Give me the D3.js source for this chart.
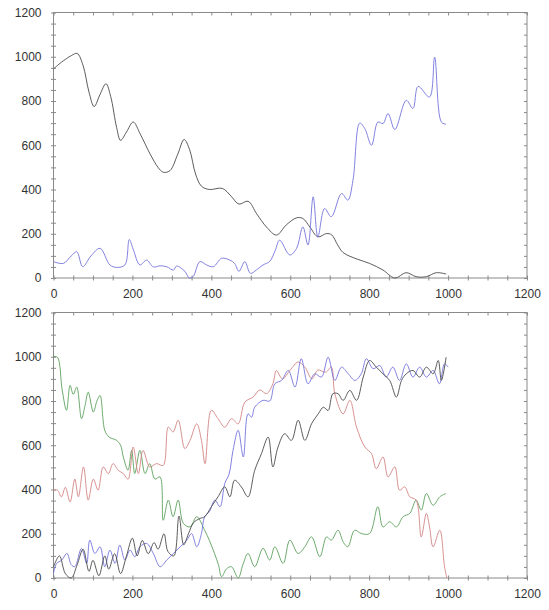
<!DOCTYPE html>
<html>
<head>
<meta charset="utf-8">
<script src="https://cdn.jsdelivr.net/npm/d3@7"></script>
<style>
  html, body { margin: 0; padding: 0; background: #fff; }
  svg { display: block; }
  .tick text { font-family: Arial, "Liberation Sans", sans-serif; font-size: 12px; fill: #333; }
</style>
</head>
<body>
<svg id="chart" width="549" height="610"></svg>
<script>
// Axis settings shared by both panels
const xLabelTicks = [0, 200, 400, 600, 800, 1000, 1200];
const yLabelTicks = [0, 200, 400, 600, 800, 1000, 1200];
const minorStep = 50;

// Upper panel: two smooth profiles
const upperBlack = [[0,945],[20,975],[45,1005],[60,1015],[75,960],[90,840],[103,775],[118,830],[133,878],[145,820],[160,680],[170,622],[185,660],[202,705],[220,650],[245,560],[265,500],[278,478],[295,485],[315,560],[331,626],[345,580],[360,470],[375,415],[395,400],[428,405],[450,370],[470,334],[493,347],[515,290],[540,230],[565,194],[590,240],[616,272],[632,269],[650,230],[670,186],[692,201],[705,195],[720,150],[734,115],[770,85],[801,66],[835,36],[865,0],[894,24],[919,6],[945,6],[970,24],[995,18]];
const upperBlue = [[0,74],[25,66],[45,100],[59,119],[74,51],[95,100],[118,134],[143,59],[160,48],[181,59],[192,174],[202,130],[219,59],[236,81],[253,50],[270,55],[287,51],[304,36],[312,54],[333,30],[344,0],[354,7],[371,74],[388,59],[405,51],[426,89],[447,81],[459,66],[470,30],[485,74],[499,21],[514,36],[531,59],[548,75],[562,125],[573,171],[599,104],[616,134],[632,231],[645,149],[658,367],[670,186],[687,314],[704,277],[730,382],[746,352],[759,442],[776,700],[789,675],[806,600],[822,705],[835,698],[848,743],[865,671],[894,803],[911,766],[924,866],[953,818],[966,998],[983,705],[995,695]];

// Lower panel: four noisy traces
const lowerGreen = [[0,1000],[10,998],[22,850],[33,758],[42,871],[50,830],[59,863],[71,720],[80,780],[88,840],[101,750],[110,800],[118,825],[130,667],[141,637],[160,622],[170,600],[177,547],[189,487],[198,577],[206,472],[219,577],[232,472],[244,517],[257,447],[270,457],[278,261],[291,352],[303,277],[316,352],[329,247],[346,231],[363,277],[383,216],[395,170],[408,111],[418,60],[426,6],[438,40],[451,51],[468,0],[480,60],[493,111],[510,51],[531,134],[548,81],[561,141],[582,66],[599,171],[620,111],[637,141],[654,186],[675,96],[692,186],[704,171],[721,216],[735,160],[746,141],[763,216],[780,201],[801,201],[822,322],[835,231],[852,254],[869,231],[886,277],[903,292],[919,352],[932,307],[945,382],[962,329],[979,367],[995,382]];
const lowerRed = [[0,397],[10,397],[20,367],[30,410],[42,344],[54,447],[63,367],[76,502],[88,352],[101,447],[113,397],[126,502],[139,472],[151,517],[164,487],[177,472],[189,447],[202,592],[215,472],[227,577],[244,502],[261,517],[278,509],[291,682],[303,660],[316,713],[333,585],[346,622],[363,697],[375,622],[384,517],[400,758],[417,720],[434,682],[451,720],[468,697],[485,795],[506,818],[523,850],[540,833],[556,878],[565,938],[580,900],[600,940],[620,976],[637,953],[655,900],[670,940],[690,930],[704,953],[713,833],[734,742],[751,803],[768,682],[789,592],[806,562],[818,494],[835,547],[848,457],[865,502],[877,397],[890,412],[903,367],[919,352],[932,186],[945,292],[953,231],[962,141],[979,216],[991,51],[997,0]];
const lowerBlue = [[0,20],[8,66],[21,81],[34,111],[45,60],[54,51],[71,134],[84,66],[92,171],[105,111],[118,141],[130,51],[143,126],[156,66],[168,149],[181,81],[194,126],[206,96],[219,141],[236,156],[253,111],[270,51],[287,81],[304,111],[321,141],[338,171],[350,201],[363,141],[375,201],[383,277],[395,300],[409,352],[422,322],[434,427],[445,470],[455,577],[468,668],[481,547],[493,742],[502,727],[510,772],[531,803],[548,800],[561,878],[578,893],[595,938],[612,863],[628,991],[645,878],[662,923],[679,908],[696,998],[713,893],[730,953],[747,923],[764,893],[780,923],[793,991],[810,946],[827,960],[843,908],[860,953],[877,893],[894,968],[911,908],[928,953],[945,908],[962,938],[978,878],[991,968],[1000,953]];
const lowerBlack = [[0,50],[15,100],[30,20],[45,0],[60,60],[75,130],[90,30],[100,80],[115,10],[130,100],[140,40],[155,110],[170,20],[185,100],[200,180],[212,100],[225,170],[240,110],[255,160],[265,130],[280,200],[290,120],[305,100],[318,280],[330,150],[342,200],[355,250],[371,269],[383,277],[400,322],[417,367],[434,412],[447,367],[459,442],[476,412],[493,367],[510,487],[527,562],[544,637],[556,502],[569,592],[586,652],[603,622],[620,713],[637,622],[654,697],[671,742],[684,772],[696,757],[708,833],[721,833],[734,803],[751,848],[768,803],[785,908],[801,983],[818,953],[835,923],[852,893],[869,818],[882,893],[894,923],[911,938],[928,908],[945,953],[962,923],[975,983],[983,893],[995,998]];

const colors = { black: "#4a4a4a", blue: "#7474dc", red: "#d48585", green: "#5ca05c" };

const svg = d3.select("#chart");
const left = 53.5, right = 527;
const x = d3.scaleLinear().domain([0, 1200]).range([left, right]);
const minorTicks = d3.range(0, 1200 + 1, minorStep);

function panel(top, bottom, series) {
  const y = d3.scaleLinear().domain([0, 1200]).range([bottom, top]);
  const g = svg.append("g");
  const axisColor = "#8a8a8a";

  // frame
  g.append("rect").attr("x", left).attr("y", top)
    .attr("width", right - left).attr("height", bottom - top)
    .attr("fill", "none").attr("stroke", axisColor).attr("stroke-width", 1);

  const styleAxis = sel => {
    sel.select(".domain").remove();
    sel.selectAll(".tick line").attr("stroke", axisColor);
  };

  // bottom axis: labelled ticks plus minor ticks crossing the line
  g.append("g").attr("transform", `translate(0,${bottom})`)
    .call(d3.axisBottom(x).tickValues(xLabelTicks).tickSize(0).tickPadding(11).tickFormat(d3.format("d")))
    .call(styleAxis);
  g.append("g").attr("transform", `translate(0,${bottom})`)
    .call(d3.axisBottom(x).tickValues(minorTicks).tickSize(2.5).tickFormat(""))
    .call(styleAxis);
  g.append("g").attr("transform", `translate(0,${bottom})`)
    .call(d3.axisTop(x).tickValues(minorTicks).tickSize(2.5).tickFormat(""))
    .call(styleAxis);
  // top axis: inward ticks
  g.append("g").attr("transform", `translate(0,${top})`)
    .call(d3.axisBottom(x).tickValues(minorTicks).tickSize(3).tickFormat(""))
    .call(styleAxis);

  // left axis
  g.append("g").attr("transform", `translate(${left},0)`)
    .call(d3.axisLeft(y).tickValues(yLabelTicks).tickSize(0).tickPadding(12).tickFormat(d3.format("d")))
    .call(styleAxis);
  g.append("g").attr("transform", `translate(${left},0)`)
    .call(d3.axisLeft(y).tickValues(minorTicks).tickSize(2.5).tickFormat(""))
    .call(styleAxis);
  g.append("g").attr("transform", `translate(${left},0)`)
    .call(d3.axisRight(y).tickValues(minorTicks).tickSize(2.5).tickFormat(""))
    .call(styleAxis);
  // right axis: inward ticks
  g.append("g").attr("transform", `translate(${right},0)`)
    .call(d3.axisLeft(y).tickValues(minorTicks).tickSize(3).tickFormat(""))
    .call(styleAxis);

  const line = d3.line()
    .x(d => x(d[0])).y(d => y(d[1]))
    .curve(d3.curveCatmullRom.alpha(0.5));

  series.forEach(s => {
    g.append("path").datum(s.data)
      .attr("fill", "none")
      .attr("stroke", s.color)
      .attr("stroke-width", 0.9)
      .attr("stroke-linejoin", "round")
      .attr("d", line);
  });
}

panel(12.5, 278, [
  { data: upperBlack, color: colors.black },
  { data: upperBlue, color: colors.blue }
]);

panel(312.5, 578, [
  { data: lowerGreen, color: colors.green },
  { data: lowerRed, color: colors.red },
  { data: lowerBlue, color: colors.blue },
  { data: lowerBlack, color: colors.black }
]);
</script>
</body>
</html>
